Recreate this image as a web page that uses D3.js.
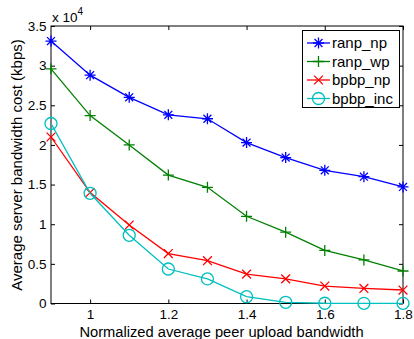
<!DOCTYPE html>
<html><head><meta charset="utf-8">
<script src="https://cdn.jsdelivr.net/npm/d3@7"></script>
<style>body{margin:0;background:#fff}svg{display:block}text{font-family:"Liberation Sans",Arial,sans-serif}</style>
</head><body>
<svg id="c" width="414" height="339"></svg>
<script>
const xValues = [0.9, 1.0, 1.1, 1.2, 1.3, 1.4, 1.5, 1.6, 1.7, 1.8];
const ranp_np  = [33100, 28800, 26000, 23800, 23300, 20300, 18400, 16800, 16000, 14700];
const ranp_wp  = [29600, 23700, 20000, 16200, 14650, 11000, 9000, 6700, 5500, 4100];
const bpbp_np  = [21000, 14000, 9900, 6300, 5400, 3700, 3100, 2200, 1900, 1700];
const bpbp_inc = [22700, 13900, 8600, 4350, 3100, 860, 150, 30, 20, 20];
const xTicks = [1, 1.2, 1.4, 1.6, 1.8];
const yTicks = [0, 5000, 10000, 15000, 20000, 25000, 30000, 35000];
const seriesNames = ["ranp_np", "ranp_wp", "bpbp_np", "bpbp_inc"];
const seriesColors = ["#0000ff", "#008000", "#ff0000", "#00bfbf"];
const seriesMarkers = ["star", "plus", "cross", "circle"];
const seriesData = [ranp_np, ranp_wp, bpbp_np, bpbp_inc];

const svg = d3.select("#c");
const L = 51, R = 403, T = 26, B = 303.5;
const x = d3.scaleLinear().domain([0.9, 1.8]).range([L, R]);
const y = d3.scaleLinear().domain([0, 35000]).range([B, T]);
const fmt = d => String(+d.toFixed(2));

function marker(g, type, cx, cy, color) {
  const s = 5.5;
  const p = d3.path();
  if (type === "plus" || type === "star") {
    p.moveTo(cx - s, cy); p.lineTo(cx + s, cy);
    p.moveTo(cx, cy - s); p.lineTo(cx, cy + s);
  }
  if (type === "cross" || type === "star") {
    const d = type === "star" ? s * 0.72 : s * 0.8;
    p.moveTo(cx - d, cy - d); p.lineTo(cx + d, cy + d);
    p.moveTo(cx - d, cy + d); p.lineTo(cx + d, cy - d);
  }
  if (type === "circle") {
    g.append("circle").attr("cx", cx).attr("cy", cy).attr("r", 6)
      .attr("fill", "none").attr("stroke", color).attr("stroke-width", 1.3);
    return;
  }
  g.append("path").attr("d", p.toString()).attr("stroke", color).attr("stroke-width", 1.3).attr("fill", "none");
}

svg.append("rect").attr("x", L).attr("y", T).attr("width", R - L).attr("height", B - T)
  .attr("fill", "#fff").attr("stroke", "#000").attr("stroke-width", 1);

const tl = 4;
const gx = svg.append("g").attr("transform", `translate(0,${B})`)
  .call(d3.axisBottom(x).tickValues(xTicks).tickSize(-tl).tickPadding(6).tickFormat(fmt));
gx.select(".domain").remove();
gx.selectAll("text").attr("font-size", 13.5).attr("fill", "#000").attr("font-family", "Liberation Sans, Arial, sans-serif");
const gxt = svg.append("g").attr("transform", `translate(0,${T})`)
  .call(d3.axisTop(x).tickValues(xTicks).tickSize(-tl).tickFormat(""));
gxt.select(".domain").remove();

const gy = svg.append("g").attr("transform", `translate(${L},0)`)
  .call(d3.axisLeft(y).tickValues(yTicks).tickSize(-tl).tickPadding(4.5).tickFormat(d => fmt(d / 10000)));
gy.select(".domain").remove();
gy.selectAll("text").attr("font-size", 13.5).attr("fill", "#000").attr("font-family", "Liberation Sans, Arial, sans-serif");
const gyr = svg.append("g").attr("transform", `translate(${R},0)`)
  .call(d3.axisRight(y).tickValues(yTicks).tickSize(-tl).tickFormat(""));
gyr.select(".domain").remove();
svg.selectAll(".tick line").attr("stroke", "#000");

const line = d3.line().x((d, i) => x(xValues[i])).y(d => y(d));
seriesData.forEach((vals, si) => {
  const g = svg.append("g");
  g.append("path").datum(vals).attr("d", line).attr("fill", "none")
    .attr("stroke", seriesColors[si]).attr("stroke-width", 1.3);
  vals.forEach((v, i) => marker(g, seriesMarkers[si], x(xValues[i]), y(v), seriesColors[si]));
});

const mt = svg.append("text").attr("x", 52).attr("y", 22).attr("font-size", 13.5);
mt.append("tspan").text("x 10");
mt.append("tspan").attr("dy", -7).attr("font-size", 10).text("4");

svg.append("text").attr("x", 221.5).attr("y", 337).attr("text-anchor", "middle")
  .attr("font-size", 14.7).text("Normalized average peer upload bandwidth");
svg.append("text").attr("transform", `translate(22,165) rotate(-90)`).attr("text-anchor", "middle")
  .attr("font-size", 15).text("Average server bandwidth cost (kbps)");

const lg = svg.append("g");
lg.append("rect").attr("x", 302.5).attr("y", 30.5).attr("width", 97).attr("height", 77)
  .attr("fill", "#fff").attr("stroke", "#000").attr("stroke-width", 1);
seriesNames.forEach((n, i) => {
  const cy = 43 + i * 18.5;
  lg.append("line").attr("x1", 307).attr("x2", 330).attr("y1", cy).attr("y2", cy)
    .attr("stroke", seriesColors[i]).attr("stroke-width", 1.3);
  marker(lg, seriesMarkers[i], 318.5, cy, seriesColors[i]);
  lg.append("text").attr("x", 332).attr("y", cy + 5).attr("font-size", 15).text(n);
});
</script>
</body></html>
